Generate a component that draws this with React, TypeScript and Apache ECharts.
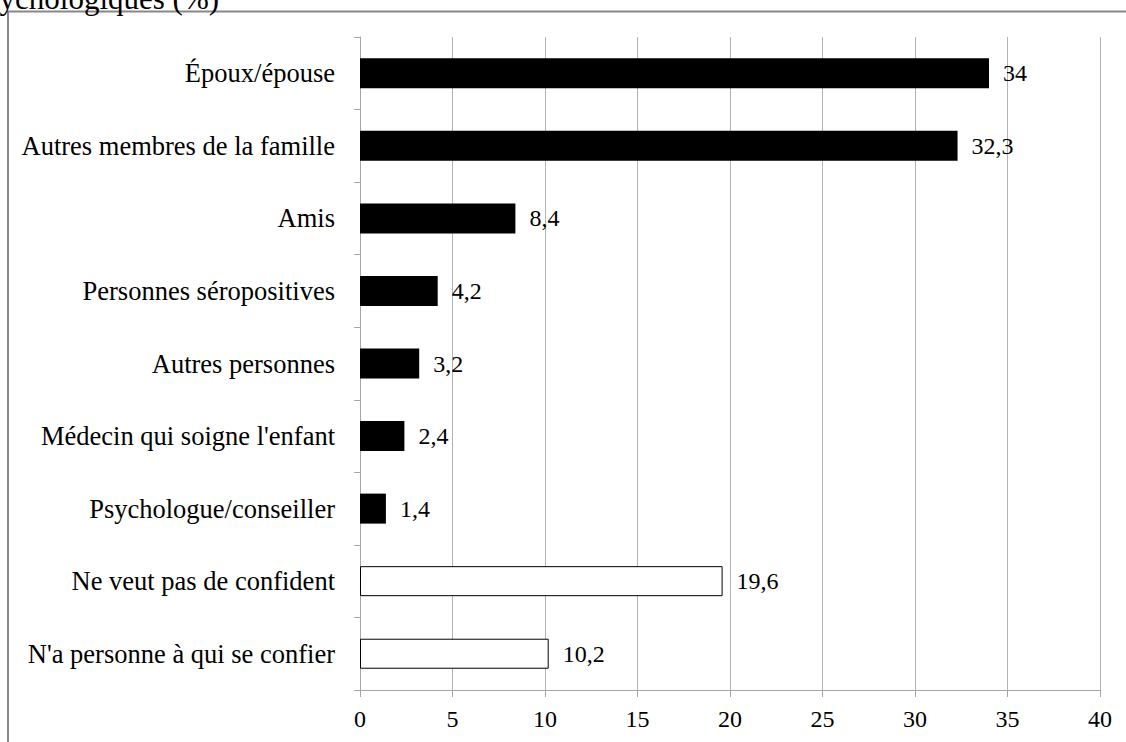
import React, { useEffect, useRef } from "react";
import * as echarts from "echarts";

const categories = [
  "Époux/épouse",
  "Autres membres de la famille",
  "Amis",
  "Personnes séropositives",
  "Autres personnes",
  "Médecin qui soigne l'enfant",
  "Psychologue/conseiller",
  "Ne veut pas de confident",
  "N'a personne à qui se confier",
];
const values = [34, 32.3, 8.4, 4.2, 3.2, 2.4, 1.4, 19.6, 10.2];
const hollow = [false, false, false, false, false, false, false, true, true];
const titleText = "psychologiques (%)";

const FONT = "Liberation Serif";

export default function App() {
  const ref = useRef<HTMLDivElement>(null);
  useEffect(() => {
    if (!ref.current) return;
    const chart = echarts.init(ref.current, null, { renderer: "svg" });
    chart.setOption({
      animation: false,
      backgroundColor: "#ffffff",
      textStyle: { fontFamily: FONT, color: "#000" },
      graphic: [
        {
          type: "rect",
          shape: { x: 8, y: 11.5, width: 1300, height: 900 },
          style: { fill: "none", stroke: "#888888", lineWidth: 2 },
          z: -1,
        },
        {
          type: "text",
          x: -28,
          y: 14,
          style: {
            text: titleText,
            fontSize: 31,
            fontFamily: FONT,
            fill: "#000",
            verticalAlign: "bottom",
          },
        },
      ],
      grid: { left: 360, right: 26, top: 37, bottom: 52, containLabel: false },
      xAxis: {
        type: "value",
        min: 0,
        max: 40,
        interval: 5,
        axisLine: { show: true, lineStyle: { color: "#a6a6a6", width: 1 } },
        axisTick: { show: true, length: 7, lineStyle: { color: "#a6a6a6" } },
        splitLine: { show: true, lineStyle: { color: "#b3b3b3", width: 1 } },
        axisLabel: { fontSize: 24, color: "#000", fontFamily: FONT, margin: 17 },
      },
      yAxis: {
        type: "category",
        inverse: true,
        data: categories,
        axisLine: { show: true, lineStyle: { color: "#a6a6a6", width: 1 } },
        axisTick: { show: true, length: 6, lineStyle: { color: "#a6a6a6" } },
        axisLabel: { fontSize: 26.5, color: "#000", fontFamily: FONT, margin: 25 },
      },
      series: [
        {
          type: "bar",
          barWidth: 30,
          data: values.map((v, i) => ({
            value: v,
            itemStyle: hollow[i]
              ? { color: "#ffffff", borderColor: "#000000", borderWidth: 1 }
              : { color: "#000000" },
          })),
          label: {
            show: true,
            position: "right",
            distance: 14,
            fontSize: 24,
            color: "#000",
            fontFamily: FONT,
            formatter: (p: any) => String(p.value).replace(".", ","),
          },
        },
      ],
    });
    return () => chart.dispose();
  }, []);
  return (
    <div
      ref={ref}
      style={{ position: "absolute", left: 0, top: 0, width: 1126, height: 742 }}
    />
  );
}
